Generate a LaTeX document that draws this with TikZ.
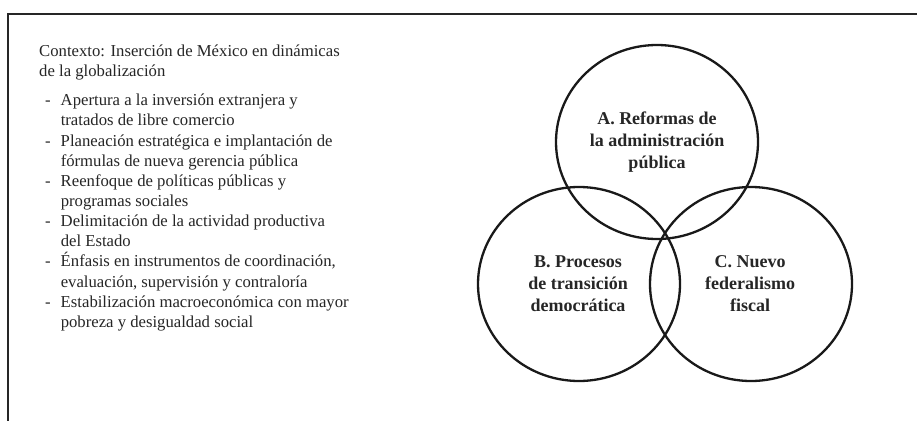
\documentclass[tikz,border=0pt]{standalone}
\usepackage{fontspec}
\setmainfont{Liberation Serif}
\begin{document}
\begin{tikzpicture}[x=1pt,y=-1pt,
  frame/.style={line width=1.3pt, draw=black!85},
  venn/.style={line width=2.3pt, draw=black!90},
  ctxtext/.style={font=\fontsize{16.7}{20}\selectfont, text=black!85, inner sep=0pt},
  circtext/.style={font=\fontsize{18}{22}\selectfont\bfseries, text=black!85, align=center, inner sep=0pt}]
\useasboundingbox (0,0) rectangle (917,420);
\fill[white] (0,0) rectangle (917,420);
% frame (top and left edges)
\coordinate (fbl) at (8,421);
\coordinate (ftl) at (8,14);
\coordinate (ftr) at (918,14);
\draw[frame] (fbl) -- (ftl) -- (ftr);
% context heading
\node[ctxtext, align=left, anchor=north west] (ctx) at (39,45)
  {Contexto: Inserción de México en dinámicas\\de la globalización};
% bullet list
\node[ctxtext, anchor=north west, font=\fontsize{16.7}{20.1}\selectfont] (list) at (45,91.6)
  {\def\arraystretch{1}\setlength{\tabcolsep}{0pt}%
   \begin{tabular}{@{}l@{\hspace{10pt}}l@{}}
   - & Apertura a la inversión extranjera y\\
     & tratados de libre comercio\\
   - & Planeación estratégica e implantación de\\
     & fórmulas de nueva gerencia pública\\
   - & Reenfoque de políticas públicas y\\
     & programas sociales\\
   - & Delimitación de la actividad productiva\\
     & del Estado\\
   - & Énfasis en instrumentos de coordinación,\\
     & evaluación, supervisión y contraloría\\
   - & Estabilización macroeconómica con mayor\\
     & pobreza y desigualdad social
   \end{tabular}};
% Venn circles
\draw[venn] (657,142) ellipse [x radius=101pt, y radius=97pt];
\draw[venn] (579,284) ellipse [x radius=101pt, y radius=97pt];
\draw[venn] (751,284) ellipse [x radius=101pt, y radius=97pt];
% labels
\node[circtext] (A) at (657,142) {A. Reformas de\\la administración\\pública};
\node[circtext] (B) at (578,284) {B. Procesos\\de transición\\democrática};
\node[circtext] (C) at (750,284) {C. Nuevo\\federalismo\\fiscal};
\end{tikzpicture}
\end{document}
